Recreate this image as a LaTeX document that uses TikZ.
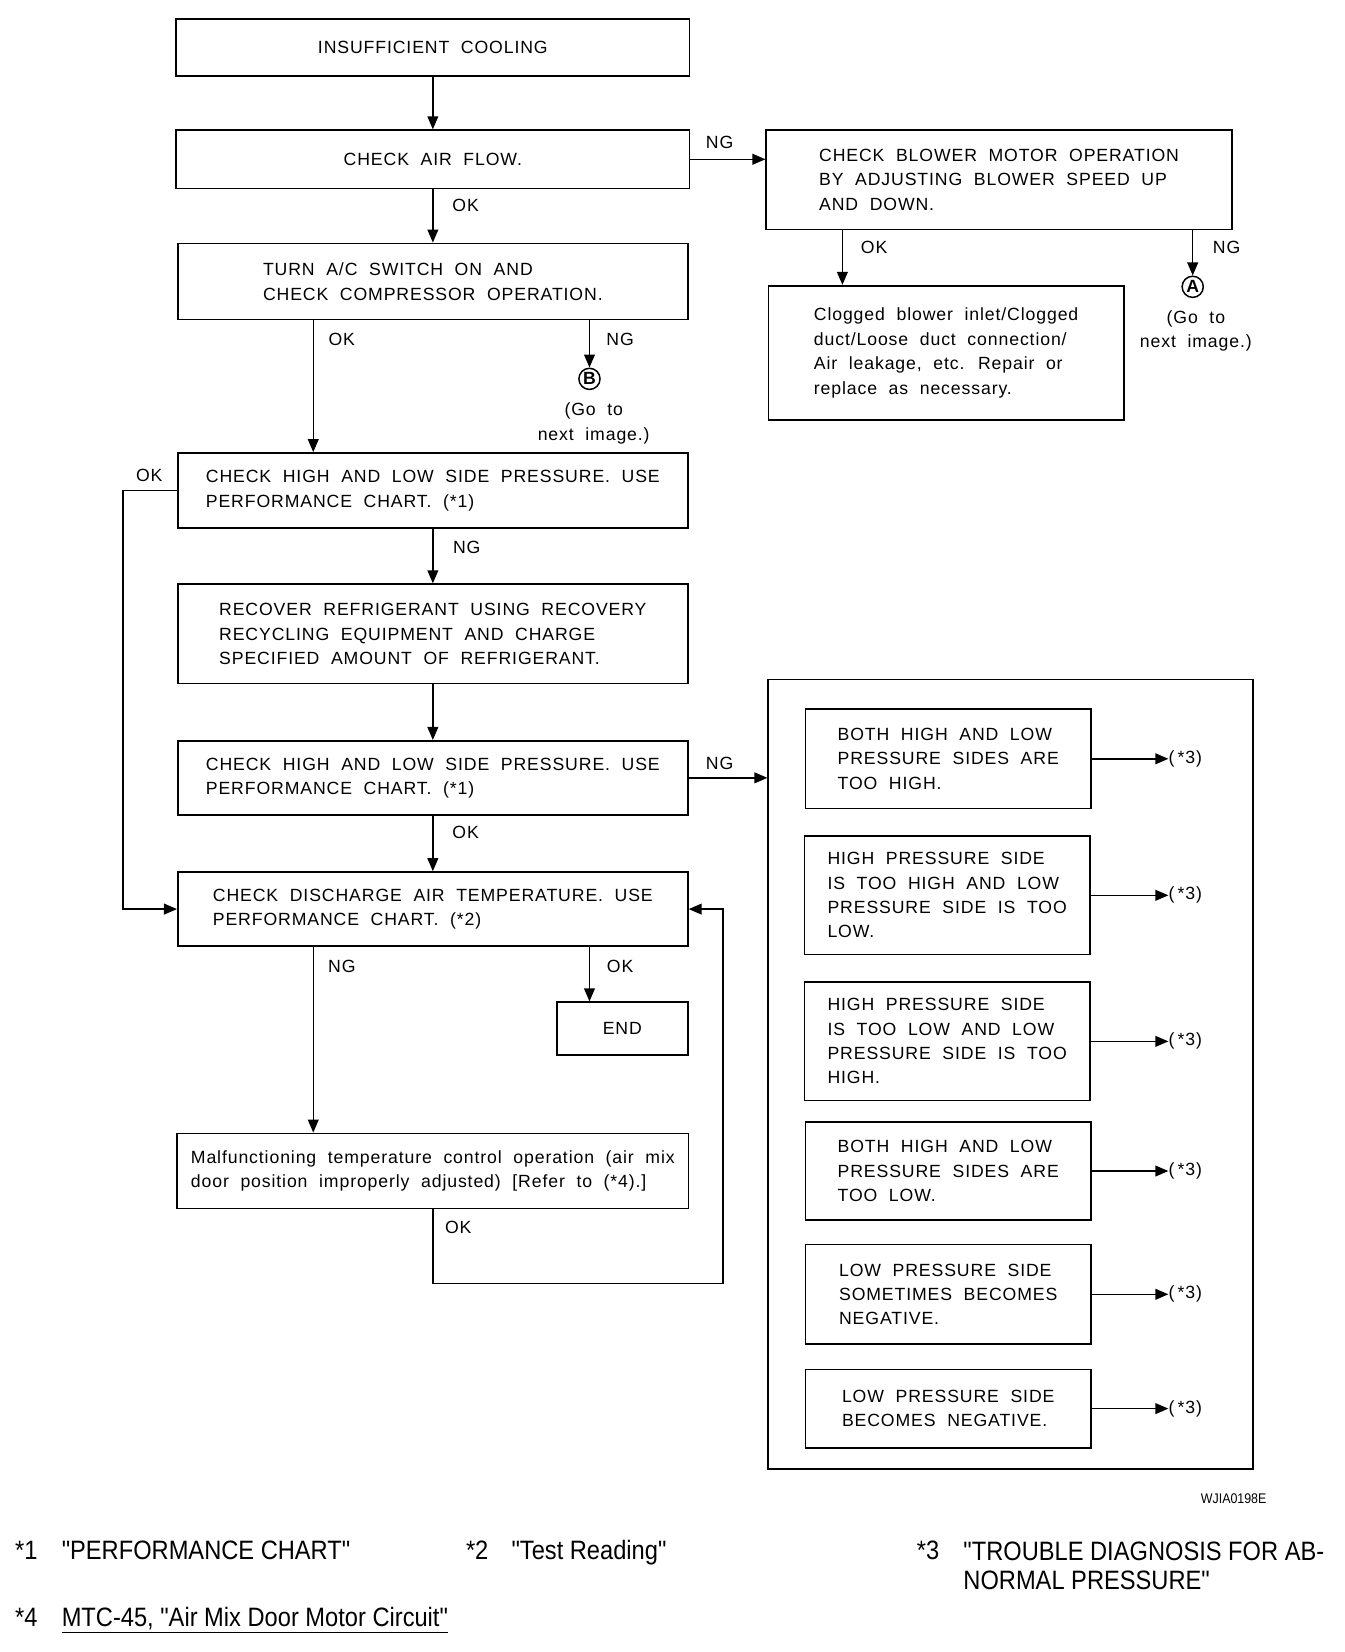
\documentclass[tikz,border=0pt]{standalone}
\usepackage{fontspec}
\setmainfont{Liberation Sans}
\newfontfamily\boxfont{Liberation Sans}[LetterSpace=5,WordSpace=2]
\newfontfamily\notefont{Liberation Sans}[FakeStretch=0.89]
\usetikzlibrary{arrows.meta,positioning}
\tikzstyle{stepbox} = [draw=black, line width=0.9pt, rectangle,
                       align=left, inner sep=0pt,
                       font=\boxfont\fontsize{9.5}{13.1}\selectfont]
\tikzstyle{lbl} = [inner sep=0pt, font=\boxfont\fontsize{9.5}{13.1}\selectfont]
\tikzstyle{note} = [inner sep=0pt, anchor=base west,
                    font=\notefont\fontsize{14.3}{15.9}\selectfont]
\tikzstyle{goto} = [draw, circle, line width=0.8pt, inner sep=0pt,
                    minimum size=0.4cm, font=\bfseries\fontsize{9.5}{10}\selectfont]
\tikzstyle{conn} = [draw, line width=0.8pt]
\tikzstyle{flow} = [conn, -{Triangle[length=7pt,width=5.8pt]}]

\begin{document}
\begin{tikzpicture}[x=0.02cm, y=-0.02cm]
  \useasboundingbox (0,0) rectangle (1270,1561);
  \coordinate (colL) at (296,0);
  \coordinate (colR) at (557,0);
  \coordinate (colO) at (796,0);

  % main column
  \node [stepbox, minimum width=9.70cm, minimum height=1.08cm] (cool) at (409,45)
    {INSUFFICIENT COOLING};
  \node [stepbox, minimum width=9.70cm, minimum height=1.10cm] (air) at (409,150.5)
    {CHECK AIR FLOW.};
  \node [stepbox, minimum width=9.64cm, minimum height=1.44cm] (turn) at (409,266)
    {TURN A/C SWITCH ON AND\\CHECK COMPRESSOR OPERATION.};
  \node [stepbox, minimum width=9.64cm, minimum height=1.42cm] (press1) at (409,463.5)
    {CHECK HIGH AND LOW SIDE PRESSURE. USE\\PERFORMANCE CHART. (*1)};
  \node [stepbox, minimum width=9.64cm, minimum height=1.88cm] (recover) at (409,599)
    {RECOVER REFRIGERANT USING RECOVERY\\RECYCLING EQUIPMENT AND CHARGE\\SPECIFIED AMOUNT OF REFRIGERANT.};
  \node [stepbox, minimum width=9.64cm, minimum height=1.40cm] (press2) at (409,735)
    {CHECK HIGH AND LOW SIDE PRESSURE. USE\\PERFORMANCE CHART. (*1)};
  \node [stepbox, minimum width=9.64cm, minimum height=1.40cm] (disch) at (409,859)
    {CHECK DISCHARGE AIR TEMPERATURE. USE\\PERFORMANCE CHART. (*2)};
  \node [stepbox, minimum width=2.48cm, minimum height=1.00cm] (endbox) at (588,972)
    {END};
  \node [stepbox, minimum width=9.66cm, minimum height=1.42cm] (malf) at (409,1106.5)
    {Malfunctioning temperature control operation (air mix\\door position improperly adjusted) [Refer to (*4).]};

  % blower branch
  \node [stepbox, minimum width=8.80cm, minimum height=1.88cm] (blower) at (944,170)
    {CHECK BLOWER MOTOR OPERATION\\BY ADJUSTING BLOWER SPEED UP\\AND DOWN.};
  \node [stepbox, minimum width=6.72cm, minimum height=2.54cm] (clog) at (894,333.5)
    {Clogged blower inlet/Clogged\\duct/Loose duct connection/\\Air leakage, etc. Repair or\\replace as necessary.};
  \node [goto] (ptA) at (1127,271) {A};
  \node [lbl, align=center] (goA) at (1130,313) {(Go to\\next image.)};
  \node [goto] (ptB) at (557,358) {B};
  \node [lbl, align=center] (goB) at (561,400) {(Go to\\next image.)};

  % pressure group
  \node [draw, line width=1pt, minimum width=9.16cm, minimum height=14.92cm] (group) at (955,1015) {};
  \node [stepbox, minimum width=5.40cm, minimum height=1.88cm] (hi1) at (896,717)
    {BOTH HIGH AND LOW\\PRESSURE SIDES ARE\\TOO HIGH.};
  \node [stepbox, minimum width=5.40cm, minimum height=2.24cm] (hi2) at (895,846)
    {HIGH PRESSURE SIDE\\IS TOO HIGH AND LOW\\PRESSURE SIDE IS TOO\\LOW.};
  \node [stepbox, minimum width=5.40cm, minimum height=2.24cm] (hi3) at (895,984)
    {HIGH PRESSURE SIDE\\IS TOO LOW AND LOW\\PRESSURE SIDE IS TOO\\HIGH.};
  \node [stepbox, minimum width=5.40cm, minimum height=1.86cm] (lo1) at (896,1106.5)
    {BOTH HIGH AND LOW\\PRESSURE SIDES ARE\\TOO LOW.};
  \node [stepbox, minimum width=5.40cm, minimum height=1.88cm] (neg1) at (896,1223)
    {LOW PRESSURE SIDE\\SOMETIMES BECOMES\\NEGATIVE.};
  \node [stepbox, minimum width=5.40cm, minimum height=1.48cm] (neg2) at (896,1331)
    {LOW PRESSURE SIDE\\BECOMES NEGATIVE.};
  \foreach \b in {hi1,hi2,hi3,lo1,neg1,neg2}{
    \node [lbl, anchor=west] (ref\b) at (1104,0 |- \b.east) {(\,*3)};
    \draw [flow] (\b.east) -- (ref\b.west);
  }

  % connectors
  \draw [flow] (cool) -- (air);
  \draw [flow] (air) -- (turn);
  \draw [flow] (air.east) -- (air.east -| blower.west);
  \draw [flow] (blower.south -| colO) -- (clog.north -| colO);
  \draw [flow] (ptA |- blower.south) -- (ptA.north);
  \draw [flow] (turn.south -| colL) -- (press1.north -| colL);
  \draw [flow] (turn.south -| colR) -- (ptB.north);
  \draw [flow] (press1.west) -- ++(-51,0) |- (disch.west);
  \draw [flow] (press1) -- (recover);
  \draw [flow] (recover) -- (press2);
  \draw [flow] (press2.east) -- (press2.east -| group.west);
  \draw [flow] (press2) -- (disch);
  \draw [flow] (disch.south -| colL) -- (malf.north -| colL);
  \draw [flow] (disch.south -| colR) -- (endbox.north -| colR);
  \draw [flow] (malf.south) |- ++(274,70) |- (disch.east);

  % connector labels
  \node [lbl] (ngAir) at (680,135) {NG};
  \node [lbl] (okAir) at (440,194) {OK};
  \node [lbl] (okBlw) at (826,234) {OK};
  \node [lbl] (ngBlw) at (1159,234) {NG};
  \node [lbl] (okTurn) at (323,321) {OK};
  \node [lbl] (ngTurn) at (586,321) {NG};
  \node [lbl] (okP1) at (141,449) {OK};
  \node [lbl] (ngP1) at (441,517) {NG};
  \node [lbl] (ngP2) at (680,721) {NG};
  \node [lbl] (okP2) at (440,787) {OK};
  \node [lbl] (ngDis) at (323,913) {NG};
  \node [lbl] (okDis) at (586,913) {OK};
  \node [lbl] (okMalf) at (433,1160) {OK};

  \node [inner sep=0pt, anchor=east, font=\notefont\fontsize{7.5}{8}\selectfont] (code) at (1197,1416) {WJIA0198E};

  % footnotes
  \node [note] (n1) at (14,1474) {*1};
  \node [note] (t1) at (58,1474) {"PERFORMANCE CHART"};
  \node [note] (n2) at (440,1474) {*2};
  \node [note] (t2) at (483,1474) {"Test Reading"};
  \node [note] (n3) at (866,1474) {*3};
  \node [note, align=left] (t3) at (910,1502) {"TROUBLE DIAGNOSIS FOR AB-\\NORMAL PRESSURE"};
  \node [note] (n4) at (14,1537) {*4};
  \node [note] (t4) at (58,1537) {\underline{MTC-45, "Air Mix Door Motor Circuit"}};
\end{tikzpicture}
\end{document}
